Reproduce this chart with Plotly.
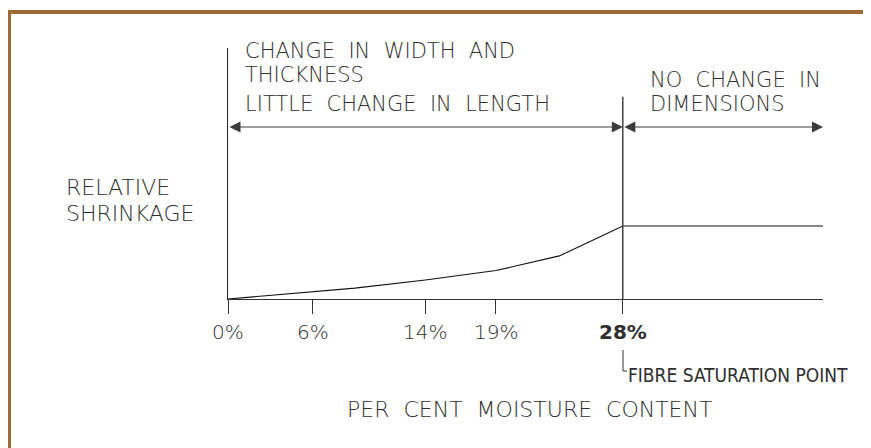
import plotly.graph_objects as go

# ---- data ----
moisture = [0, 6, 9, 14, 19, 23.5, 28, 42.2]          # per cent moisture content
shrinkage = [0, 0.10, 0.15, 0.26, 0.39, 0.59, 1.0, 1.0]  # relative shrinkage (arbitrary units)
tick_vals = [0, 6, 14, 19, 28]
tick_text = ["0%", "6%", "14%", "19%", "<b>28%</b>"]
fsp = 28            # fibre saturation point
x_max = 42.2
arrow_level = 2.356  # height of the dimension arrows (same units as shrinkage)
fsp_line_top = 2.77

W, H = 871, 448
OFF = 8  # page body margin
# plot area in page pixels: x 228..823, y 48..299
L = 228 - OFF
T = 48 - OFF
R = W - (823 - OFF)
B = H - (299 - OFF)
PW, PH = W - L - R, H - T - B
Y_TOP = PH / 73.0

def px(x):
    return (x - 228) / PW

def py(y):
    return (299 - y) / PH

FONT = "DejaVu Sans"
TXT = "#2e2e2e"

fig = go.Figure()
fig.add_trace(go.Scatter(x=moisture, y=shrinkage, mode="lines",
                         line=dict(color="#111", width=1.2), hoverinfo="skip",
                         showlegend=False, cliponaxis=False))

shapes = []
shapes.append(dict(type="line", xref="x", yref="y", x0=fsp, x1=fsp, y0=0, y1=fsp_line_top,
                   line=dict(color="#333", width=1.4)))
shapes.append(dict(type="path", xref="paper", yref="paper",
                   path=f"M {px(623)} {py(350)} L {px(623)} {py(371)} L {px(627)} {py(371)}",
                   line=dict(color="#333", width=1)))
BROWN = "#9c6b36"
shapes.append(dict(type="rect", xref="paper", yref="paper", x0=px(6), x1=px(11), y0=py(10), y1=py(470),
                   fillcolor=BROWN, line=dict(width=0), layer="above"))
shapes.append(dict(type="rect", xref="paper", yref="paper", x0=px(6), x1=px(890), y0=py(10), y1=py(14),
                   fillcolor=BROWN, line=dict(width=0), layer="above"))

annotations = []
for x_end, x_start in [(fsp, 0), (x_max, fsp)]:
    annotations.append(dict(x=x_end, y=arrow_level, ax=x_start, ay=arrow_level, xref="x", yref="y",
                            axref="x", ayref="y", text="", showarrow=True, arrowside="end+start",
                            arrowhead=2, arrowsize=2.2, arrowwidth=1, arrowcolor="#3a3a3a",
                            standoff=0, startstandoff=0))

def label(text, x, y, size=21, xanchor="left", family=FONT, color=TXT):
    annotations.append(dict(text=text, x=px(x), y=py(y), xref="paper", yref="paper",
                            xanchor=xanchor, yanchor="middle", showarrow=False,
                            font=dict(family=family, size=size, color=color, weight=300)))

label("CHANGE  IN  WIDTH  AND", 243, 51)
label("THICKNESS", 243, 75)
label("LITTLE  CHANGE  IN  LENGTH", 243, 104)
label("NO  CHANGE  IN", 648, 80)
label("DIMENSIONS", 648, 104)
label("RELATIVE", 64, 187, size=22)
label("SHRINKAGE", 64, 213, size=22)
label("FIBRE SATURATION POINT", 626, 375, size=19,
      family="DejaVu Sans Condensed, Liberation Sans Narrow, DejaVu Sans")
label("PER  CENT  MOISTURE  CONTENT", 529, 409, size=22, xanchor="center")

for v, t in zip(tick_vals, tick_text):
    annotations.append(dict(text=t, x=v, y=py(332), xref="x", yref="paper",
                            xanchor="center", yanchor="middle", showarrow=False,
                            font=dict(family=FONT, size=20, color=TXT,
                                      weight=700 if "b>" in t else 300)))

fig.update_layout(
    width=W, height=H,
    margin=dict(l=L, r=R, t=T, b=B),
    paper_bgcolor="white", plot_bgcolor="white",
    xaxis=dict(range=[0, x_max], showgrid=False, zeroline=False, showline=True,
               linecolor="#333", linewidth=1.4, ticks="outside", ticklen=14,
               tickcolor="#333", tickwidth=1.4, tickvals=tick_vals, showticklabels=False,
               fixedrange=True),
    yaxis=dict(range=[0, Y_TOP], showgrid=False, zeroline=False, showline=True,
               linecolor="#222", linewidth=1.4, showticklabels=False, ticks="",
               fixedrange=True),
    shapes=shapes, annotations=annotations, showlegend=False,
)

fig.write_html("out.html")
